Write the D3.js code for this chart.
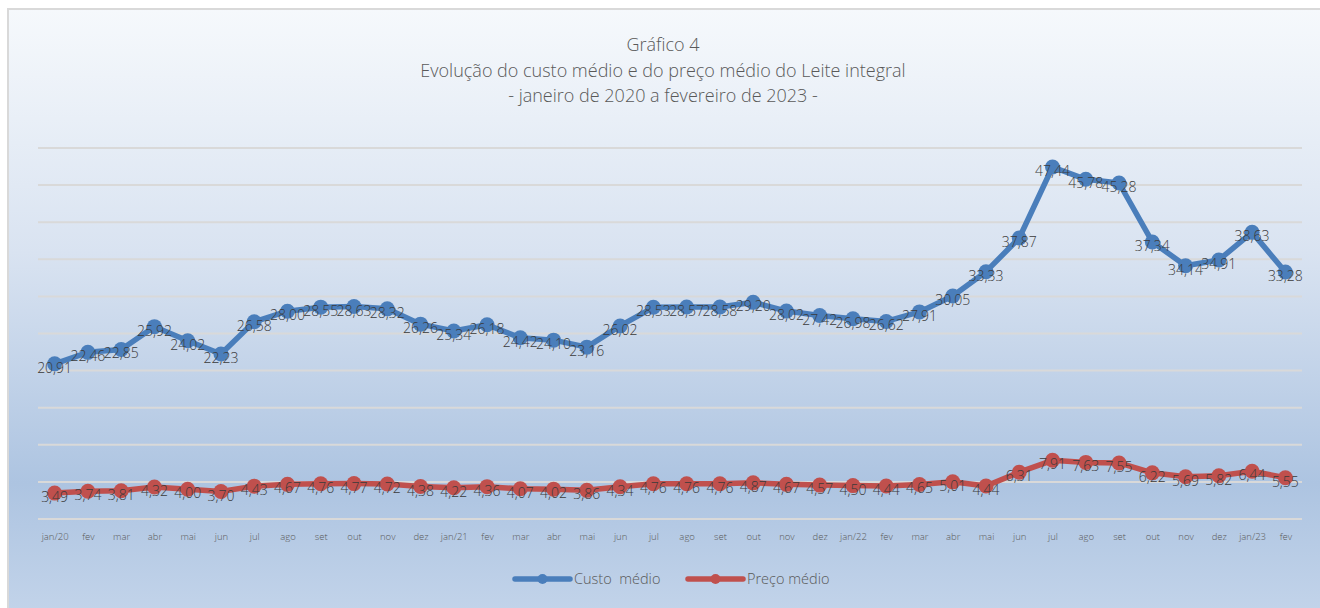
<!DOCTYPE html>
<meta charset="utf-8">
<head>
  <style>
    body { margin: 0; font-family: "Open Sans", "Noto Sans", sans-serif; }
    svg text { fill: #595959; }
  </style>
  <script src="https://cdnjs.cloudflare.com/ajax/libs/d3/7.8.5/d3.min.js"></script>
</head>
<body>
<div id="chart"></div>
<script>
  // *** data
  var months = ["jan/20","fev","mar","abr","mai","jun","jul","ago","set","out","nov","dez",
                "jan/21","fev","mar","abr","mai","jun","jul","ago","set","out","nov","dez",
                "jan/22","fev","mar","abr","mai","jun","jul","ago","set","out","nov","dez",
                "jan/23","fev"];
  var custoMedio = [20.91,22.46,22.85,25.92,24.02,22.23,26.58,28.00,28.55,28.63,28.32,26.26,
                    25.34,26.18,24.42,24.10,23.16,26.02,28.53,28.57,28.58,29.20,28.02,27.42,
                    26.98,26.62,27.91,30.05,33.33,37.87,47.44,45.78,45.28,37.34,34.14,34.91,
                    38.63,33.28];
  var precoMedio = [3.49,3.74,3.81,4.32,4.00,3.70,4.43,4.67,4.76,4.77,4.72,4.38,
                    4.22,4.36,4.07,4.02,3.86,4.34,4.76,4.76,4.76,4.87,4.67,4.57,
                    4.50,4.44,4.65,5.01,4.44,6.31,7.91,7.63,7.55,6.22,5.69,5.82,
                    6.44,5.55];
  var yTicks = [0,5,10,15,20,25,30,35,40,45,50];
  var titleLines = ["Gráfico 4",
                    "Evolução do custo médio e do preço médio do Leite integral",
                    "- janeiro de 2020 a fevereiro de 2023 -"];

  var series = [
    { name: "Custo  médio", values: custoMedio, color: "#4a7ebb" },
    { name: "Preço médio",  values: precoMedio, color: "#c0504d" }
  ];

  var W = 1320, H = 608;
  var plot = { left: 38, right: 1302, top: 148, bottom: 519 };

  var svg = d3.select("#chart").append("svg")
    .attr("width", W).attr("height", H);

  // *** background gradient
  var grad = svg.append("defs").append("linearGradient")
    .attr("id", "bg").attr("x1", 0).attr("y1", 0).attr("x2", 0).attr("y2", 1);
  grad.append("stop").attr("offset", "0%").attr("stop-color", "#f6f9fc");
  grad.append("stop").attr("offset", "40%").attr("stop-color", "#d9e3f1");
  grad.append("stop").attr("offset", "78%").attr("stop-color", "#adc4e1");
  grad.append("stop").attr("offset", "100%").attr("stop-color", "#c3d4ea");

  svg.append("rect")
    .attr("x", 8).attr("y", 9).attr("width", W).attr("height", H)
    .attr("fill", "url(#bg)")
    .attr("stroke", "#d9d9d9").attr("stroke-width", 2);

  var x = d3.scalePoint()
    .domain(d3.range(months.length))
    .range([plot.left, plot.right])
    .padding(0.5);

  var y = d3.scaleLinear()
    .domain([0, 50])
    .range([plot.bottom, plot.top]);

  // gridlines
  svg.append("g")
    .selectAll("line")
    .data(yTicks)
    .enter().append("line")
    .attr("x1", plot.left).attr("x2", plot.right)
    .attr("y1", function(d) { return y(d); })
    .attr("y2", function(d) { return y(d); })
    .attr("stroke", "#d9d9d9").attr("stroke-width", 2);

  // x axis labels
  var xAxis = d3.axisBottom(x)
    .tickSize(0)
    .tickFormat(function(i) { return months[i]; });
  var gx = svg.append("g")
    .attr("transform", "translate(0," + plot.bottom + ")")
    .call(xAxis);
  gx.select(".domain").remove();
  gx.selectAll("text")
    .attr("dy", 0).attr("y", 21)
    .style("font-family", "'Open Sans', sans-serif")
    .style("font-size", "9.5px")
    .style("font-weight", 300)
    .style("fill", "#595959");

  // *** title
  svg.append("text")
    .attr("text-anchor", "middle")
    .style("font-size", "18px")
    .style("font-weight", 300)
    .selectAll("tspan")
    .data(titleLines)
    .enter().append("tspan")
    .attr("x", 663)
    .attr("y", function(d, i) { return 51 + i * 25.5; })
    .text(function(d) { return d; });

  var line = d3.line()
    .x(function(d, i) { return x(i); })
    .y(function(d) { return y(d); });

  series.forEach(function(s) {
    var g = svg.append("g");
    g.append("path")
      .datum(s.values)
      .attr("fill", "none")
      .attr("stroke", s.color)
      .attr("stroke-width", 5.5)
      .attr("stroke-linejoin", "round")
      .attr("d", line);
    g.selectAll("circle")
      .data(s.values)
      .enter().append("circle")
      .attr("cx", function(d, i) { return x(i); })
      .attr("cy", function(d) { return y(d); })
      .attr("r", 7.5)
      .attr("fill", s.color);
    g.selectAll("text")
      .data(s.values)
      .enter().append("text")
      .attr("x", function(d, i) { return x(i); })
      .attr("y", function(d) { return y(d) + 9; })
      .attr("text-anchor", "middle")
      .style("font-size", "14px")
      .style("font-weight", 300)
      .style("fill", "#3a3a3a")
      .text(function(d) { return d.toFixed(2).replace(".", ","); });
  });

  // *** legend
  var legendX = [515, 688];
  series.forEach(function(s, i) {
    var lg = svg.append("g").attr("transform", "translate(" + legendX[i] + ",579)");
    lg.append("line")
      .attr("x1", 0).attr("x2", 55)
      .attr("stroke", s.color).attr("stroke-width", 5.5)
      .attr("stroke-linecap", "round");
    lg.append("circle").attr("cx", 27.5).attr("r", 5).attr("fill", s.color);
    lg.append("text")
      .attr("x", 59).attr("y", 5)
      .style("font-size", "14.5px")
      .style("font-weight", 300)
      .attr("xml:space", "preserve")
      .text(s.name);
  });
</script>
</body>
